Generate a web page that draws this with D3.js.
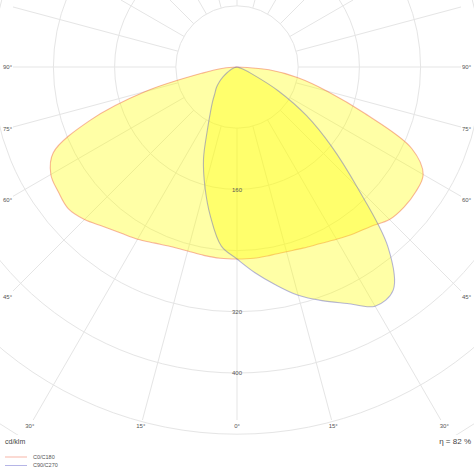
<!DOCTYPE html>
<html>
<head>
<meta charset="utf-8">
<script src="https://cdnjs.cloudflare.com/ajax/libs/d3/7.8.5/d3.min.js"></script>
<style>
  body { margin: 0; background: #fff; }
  svg { display: block; font-family: "Liberation Sans", Arial, sans-serif; }
</style>
</head>
<body>
<script>
// gamma angles (deg from nadir) and intensities in cd/klm
var gammas = [0, 5, 10, 15, 20, 25, 30, 35, 40, 45, 50, 55, 60, 65, 70, 75, 80, 85, 90];
var c0   = [251, 251, 250, 250, 252, 255, 260, 266, 272, 282, 285, 285, 281, 252, 178, 122, 81, 42, 0];
var c180 = [251, 251, 250, 249, 250, 254, 260, 265, 272, 282, 288, 285, 281, 265, 205, 124, 46, 18, 0];
var c90  = [251, 270, 289, 309, 325, 341, 361, 356, 307, 222, 161, 111, 62, 22, 8, 2, 0, 0, 0];
var c270 = [251, 235, 199, 162, 128, 92, 70, 56, 45, 38, 30, 22, 15, 10, 6, 3, 1, 0, 0];

var rings = [80, 160, 240, 320, 400, 480, 560];
var ringLabels = [160, 320, 400];
var spokes = d3.range(0, 181, 15);
var angleLabels = [0, 15, 30, 45, 60, 75, 90];
var seriesNames = ['C0/C180', 'C90/C270'];
var efficiency = 'η = 82 %';
var unit = 'cd/klm';

var w = 474, h = 474;
var cx = 237, cy = 67;

var r = d3.scaleLinear().domain([0, 560]).range([0, 428.4]);

var svg = d3.select('body').append('svg')
  .attr('width', w)
  .attr('height', h);

svg.append('clipPath').attr('id', 'clip')
  .append('rect').attr('x', 0).attr('y', 0).attr('width', w).attr('height', 435);

var g = svg.append('g').attr('transform', 'translate(' + cx + ',' + cy + ')');
var grid = g.append('g').attr('clip-path', 'url(#clip)')
  .attr('transform', 'translate(' + (-cx) + ',' + (-cy) + ')')
  .append('g').attr('transform', 'translate(' + cx + ',' + cy + ')');

grid.selectAll('circle')
  .data(rings)
  .enter()
  .append('circle')
  .attr('r', d => r(d))
  .attr('fill', 'none')
  .attr('stroke', '#e5e5e5')
  .attr('stroke-width', 1);

// direction for gamma on a side (+1 right, -1 left)
function dir(gam, side) {
  var a = gam * Math.PI / 180;
  return [side * Math.sin(a), Math.cos(a)];
}

// distance from the center to the label box edge
function reach(d, x0, x1, y1) {
  var t = 1e4;
  if (d[0] < -1e-6) t = Math.min(t, (cx - x0) / -d[0]);
  if (d[0] > 1e-6) t = Math.min(t, (x1 - cx) / d[0]);
  if (d[1] > 1e-6) t = Math.min(t, (y1 - cy) / d[1]);
  if (d[1] < -1e-6) t = Math.min(t, cy / -d[1]);
  return t;
}

var spokeData = [];
spokes.forEach(function(s) {
  spokeData.push(dir(s, 1));
  if (s > 0 && s < 180) spokeData.push(dir(s, -1));
});

grid.selectAll('line')
  .data(spokeData)
  .enter()
  .append('line')
  .attr('x1', d => d[0] * r(80))
  .attr('y1', d => d[1] * r(80))
  .attr('x2', d => d[0] * reach(d, 13, 461, 420))
  .attr('y2', d => d[1] * reach(d, 13, 461, 420))
  .attr('stroke', '#e5e5e5')
  .attr('stroke-width', 1);

// curves
function points(left, right) {
  var pts = [];
  for (var i = gammas.length - 1; i >= 0; i--) pts.push([Math.PI + gammas[i] * Math.PI / 180, r(left[i])]);
  for (var j = 1; j < gammas.length; j++) pts.push([Math.PI - gammas[j] * Math.PI / 180, r(right[j])]);
  // drop repeated zeros so the spline stays clean
  return pts.filter(function(p, k) {
    if (p[1] > 0) return true;
    var prev = pts[k - 1];
    return !(prev && prev[1] === 0);
  });
}

var radial = d3.lineRadial()
  .angle(d => d[0])
  .radius(d => d[1])
  .curve(d3.curveCatmullRomClosed.alpha(0.5));

var curves = [
  {pts: points(c180, c0), stroke: 'rgba(240,110,80,0.5)'},
  {pts: points(c270, c90), stroke: 'rgba(90,90,200,0.45)'}
];

g.selectAll('path.curve')
  .data(curves)
  .enter()
  .append('path')
  .attr('class', 'curve')
  .attr('d', d => radial(d.pts))
  .attr('fill', 'rgba(255,255,0,0.35)')
  .attr('stroke', d => d.stroke)
  .attr('stroke-width', 1.1);

// ring labels
g.selectAll('text.ring')
  .data(ringLabels)
  .enter()
  .append('text')
  .attr('class', 'ring')
  .attr('x', 0)
  .attr('y', d => r(d))
  .attr('dy', '0.35em')
  .attr('text-anchor', 'middle')
  .attr('font-size', 6)
  .attr('fill', '#555')
  .text(d => d);

// angle labels
var labelData = [];
angleLabels.forEach(function(a) {
  labelData.push({a: a, d: dir(a, -1)});
  if (a > 0) labelData.push({a: a, d: dir(a, 1)});
});

g.selectAll('text.ang')
  .data(labelData)
  .enter()
  .append('text')
  .attr('class', 'ang')
  .attr('x', d => d.d[0] * reach(d.d, 7.5, 466.5, 426))
  .attr('y', d => d.d[1] * reach(d.d, 7.5, 466.5, 426))
  .attr('dy', '0.35em')
  .attr('text-anchor', 'middle')
  .attr('font-size', 6)
  .attr('fill', '#555')
  .text(d => d.a + '°');

// unit and efficiency
svg.append('text')
  .attr('x', 5)
  .attr('y', 444)
  .attr('font-size', 7)
  .attr('fill', '#444')
  .text(unit);

svg.append('text')
  .attr('x', 471)
  .attr('y', 444)
  .attr('text-anchor', 'end')
  .attr('font-size', 8)
  .attr('fill', '#444')
  .text(efficiency);

// legend
var legend = svg.selectAll('g.legend')
  .data(seriesNames)
  .enter()
  .append('g')
  .attr('class', 'legend')
  .attr('transform', (d, i) => 'translate(5,' + (457 + i * 8.5) + ')');

legend.append('line')
  .attr('x1', 0).attr('x2', 22)
  .attr('stroke', (d, i) => curves[i].stroke)
  .attr('stroke-width', 1);

legend.append('text')
  .attr('x', 28)
  .attr('dy', '0.35em')
  .attr('font-size', 5.5)
  .attr('fill', '#555')
  .text(d => d);
</script>
</body>
</html>
